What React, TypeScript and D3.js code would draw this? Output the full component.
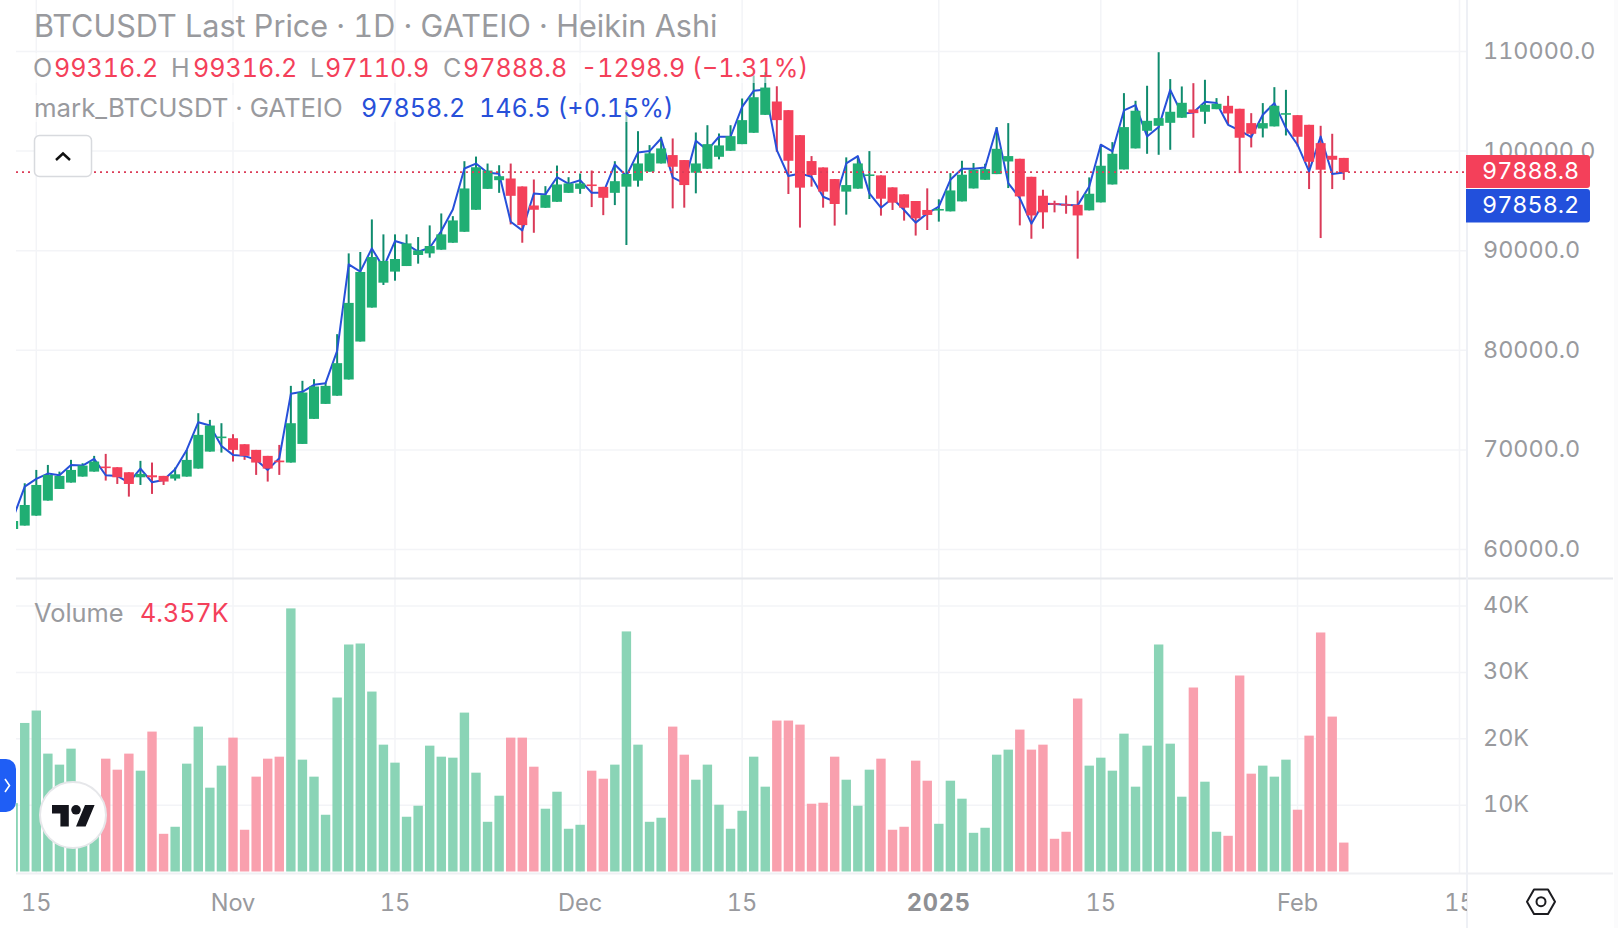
import * as d3 from "d3";

const FONT = "Inter, 'Noto Sans', sans-serif";
const UP = "#20ae73";
const DOWN = "#f4405a";
const UP_WICK = "#0f8b6e";
const DOWN_WICK = "#da3a58";
const UP_VOL = "#8ad4b6";
const DOWN_VOL = "#f9a0ae";
const BLUE = "#2750d9";
const GRID = "#f3f4f7";
const GREY = "#999a9e";

// first candle date, one candle per day
const firstDay = new Date(Date.UTC(2024, 9, 13));

const open = [
  62060, 62400, 63400, 64910, 66080, 66720, 67320, 67820, 68330, 68260, 67755, 67250, 67450, 67390, 67120, 67320,
  68125, 69830, 71200, 71170, 70570, 70000, 69400, 68930, 68730, 70600, 73115, 74620, 75440, 77070, 80880, 84290,
  86790, 87900, 88460, 89570, 89730, 90100, 90800, 91900, 94110, 96210, 97080, 97250, 96450, 94540, 94310, 94910,
  95810, 96210, 96650, 96410, 95810, 96430, 97030, 97930, 98760, 99600, 99100, 97830, 98230, 99430, 100030, 100700,
  101840, 103640, 104980, 104110, 101600, 99000, 98360, 97190, 95930, 96230, 97530, 97560, 96360, 95660, 94990, 94090,
  94050, 93950, 94950, 96250, 97120, 97690, 98960, 99230, 97420, 95520, 94780, 94680, 94610, 94050, 94850, 96650,
  98160, 100270, 102040, 102540, 102840, 103350, 104180, 103950, 104210, 104550, 104250, 102810, 102270, 102480, 103710,
  103610, 102640, 100800, 99530, 99316.2,
];
const high = [
  62860, 66650, 67990, 68490, 67820, 69000, 68660, 69400, 69600, 68260, 67755, 68900, 68730, 67390, 68225, 70000,
  73685, 73015, 72680, 71575, 70570, 70000, 69400, 70500, 76430, 76935, 77100, 76770, 81620, 89730, 89870, 93140,
  91640, 91640, 91640, 91370, 92540, 93740, 93470, 98985, 99450, 98750, 98580, 98750, 96450, 97150, 96480, 98550,
  97380, 97750, 98050, 96410, 98985, 104120, 102000, 100600, 101440, 101270, 99100, 101870, 102600, 101770, 102600, 105280,
  107600, 107920, 106510, 104110, 101600, 99500, 98360, 97190, 99370, 99500, 100000, 97560, 96360, 95660, 94990, 96260,
  95160, 97790, 99030, 98800, 98730, 102410, 102810, 99230, 97420, 96120, 95020, 95550, 96020, 97360, 100640, 100900,
  105820, 105050, 106560, 109930, 107230, 106490, 106820, 107160, 105320, 105550, 104250, 103810, 104820, 106420, 106150,
  103610, 102640, 102540, 101740, 99316.2,
];
const low = [
  61900, 62400, 63400, 64910, 66080, 66720, 67320, 67820, 66920, 66580, 65310, 66480, 65580, 66480, 66920, 67320,
  68125, 69830, 69730, 68830, 69000, 67490, 66820, 67490, 68730, 70600, 73115, 74620, 75440, 77070, 80880, 84290,
  86560, 86990, 88460, 88700, 89300, 90100, 90800, 91900, 94110, 96210, 95810, 92640, 90800, 91800, 94310, 94910,
  95810, 95710, 94380, 93570, 94580, 90570, 96430, 97930, 98760, 94250, 94320, 95760, 98230, 99170, 100030, 100700,
  101840, 103640, 99930, 95690, 92320, 96430, 94320, 92520, 93620, 96230, 95190, 93520, 94090, 93020, 91520, 92080,
  92920, 93950, 94950, 96250, 97120, 97690, 96290, 92540, 91200, 92210, 93850, 93710, 89200, 94050, 94850, 96650,
  98160, 100270, 99730, 99630, 100130, 103350, 101340, 102740, 104210, 102640, 97790, 100370, 101370, 102480, 101570,
  100470, 96190, 91270, 96190, 97110.9,
];
const close = [
  62860, 64470, 66480, 67490, 67390, 67990, 68425, 68830, 68250, 67250, 66580, 67590, 67250, 66820, 67550, 68995,
  71510, 72445, 71340, 70000, 69400, 68730, 68125, 68760, 72680, 75760, 76365, 76430, 78710, 84760, 87860, 89365,
  88965, 89165, 90735, 90030, 90470, 91640, 93040, 96250, 98380, 98050, 97480, 95510, 92570, 94110, 95580, 96650,
  96750, 96750, 96510, 95310, 96980, 97700, 98760, 99770, 100270, 98430, 96590, 98760, 100700, 100570, 101500, 103110,
  105410, 106380, 103110, 99030, 96330, 97600, 95930, 94690, 96590, 98760, 97660, 95220, 94820, 94320, 93250, 93590,
  94190, 96050, 97630, 98130, 98190, 100230, 99500, 95450, 93540, 93850, 94610, 94550, 93540, 95720, 98530, 99730,
  102410, 104050, 103040, 103310, 103950, 104850, 103810, 104650, 104750, 103780, 101340, 101740, 102810, 104550, 103810,
  101440, 98930, 98130, 99130, 97888.8,
];
const markPrice = [
  63170, 66315, 67085, 67620, 67450, 68490, 68425, 69100, 67450, 67390, 66720, 68125, 66750, 66985, 68060, 70000,
  72780, 72445, 70400, 69500, 69400, 69000, 67990, 69160, 75630, 75830, 76530, 76700, 79950, 88630, 87900, 90230,
  88300, 90970, 90630, 89900, 90300, 91970, 94140, 98250, 98750, 97820, 97720, 92910, 92040, 95750, 95650, 97380,
  96710, 97080, 95810, 95810, 98660, 97500, 99870, 100000, 101270, 97360, 96760, 101040, 100100, 101440, 101440, 104440,
  106050, 106180, 100100, 97500, 97760, 97430, 95420, 94920, 98760, 99500, 95760, 94320, 95260, 94090, 92820, 93750,
  94420, 97120, 98230, 98230, 98360, 102310, 96790, 95280, 92710, 94710, 94680, 94610, 94550, 96450, 100640, 99970,
  104080, 104620, 101470, 102410, 106150, 103750, 103880, 104950, 104820, 102640, 102070, 101400, 103650, 104820, 102310,
  100640, 97960, 101470, 97712, 97858.2,
];
const volume = [
  10300, 22380, 24250, 17760, 16100, 18510, 10300, 9300, 17000, 15340, 17760, 15190, 21080, 5680, 6740, 16250,
  21830, 12630, 15950, 20170, 6290, 14290, 17000, 17300, 39640, 16850, 14290, 8550, 26210, 34200, 34350, 27110,
  19110, 16400, 8250, 9910, 18960, 17300, 17150, 23940, 14890, 7490, 11420, 20170, 20170, 15790, 9460, 12020,
  6440, 7040, 15190, 13980, 16100, 36170, 19110, 7490, 8100, 21830, 17600, 13830, 16100, 10060, 6440, 9150,
  17300, 12780, 22740, 22740, 22130, 10210, 10360, 17300, 13830, 9910, 15340, 17000, 6290, 6740, 16700, 13680,
  7190, 13680, 10970, 5830, 6590, 17600, 18360, 21380, 18360, 19110, 4930, 5990, 26060, 15950, 17150, 15190,
  20770, 12780, 18960, 34200, 19260, 11270, 27720, 13530, 5990, 5380, 29530, 14740, 15950, 14290, 16850, 9310,
  20470, 36010, 23340, 4357,
];

const dates = open.map((_, i) => d3.utcDay.offset(firstDay, i));

const priceTicks = [60000, 70000, 80000, 90000, 100000, 110000];
const volumeTicks = [10000, 20000, 30000, 40000];
const timeTicks = [
  new Date(Date.UTC(2024, 9, 15)),
  new Date(Date.UTC(2024, 10, 1)),
  new Date(Date.UTC(2024, 10, 15)),
  new Date(Date.UTC(2024, 11, 1)),
  new Date(Date.UTC(2024, 11, 15)),
  new Date(Date.UTC(2025, 0, 1)),
  new Date(Date.UTC(2025, 0, 15)),
  new Date(Date.UTC(2025, 1, 1)),
  new Date(Date.UTC(2025, 1, 15)),
];
const timeLabels = ["15", "Nov", "15", "Dec", "15", "2025", "15", "Feb", "15"];

const lastClose = 97888.8;
const lastMark = 97858.2;

const W = 1618;
const H = 928;
const plotLeft = 16;
const plotRight = 1467;
const paneBreak = 578.5;
const paneBottom = 873.5;

const x = d3
  .scaleUtc()
  .domain([new Date(Date.UTC(2024, 9, 15)), new Date(Date.UTC(2025, 1, 15))])
  .range([36.3, 1459.5]);
const y = d3.scaleLinear().domain([60000, 110000]).range([549.5, 51.5]);
const yVol = d3.scaleLinear().domain([0, 40000]).range([871.5, 606]);

const markLine = d3
  .line<number>()
  .x((_, i) => x(dates[i]))
  .y((d) => y(d));

const txt = { fontFamily: FONT, fontVariantNumeric: "tabular-nums" };

export default function App() {
  return (
    <svg
      width={W}
      height={H}
      viewBox={`0 0 ${W} ${H}`}
      style={{ position: "absolute", left: 0, top: 0, background: "#fff" }}
    >
      <defs>
        <clipPath id="plot">
          <rect x={plotLeft} y={0} width={plotRight - plotLeft} height={paneBreak} />
        </clipPath>
        <clipPath id="vol">
          <rect x={plotLeft} y={paneBreak} width={plotRight - plotLeft} height={paneBottom - paneBreak} />
        </clipPath>
        <clipPath id="timeAxis">
          <rect x={0} y={paneBottom} width={plotRight} height={H - paneBottom} />
        </clipPath>
      </defs>

      <rect x={1614} y={0} width={4} height={H} fill="#fbfbfc" />

      {/* grid */}
      {timeTicks.map((t, i) => (
        <line key={i} x1={x(t)} x2={x(t)} y1={0} y2={paneBottom} stroke={GRID} strokeWidth={1.5} />
      ))}
      {priceTicks.map((t) => (
        <line key={t} x1={plotLeft} x2={plotRight} y1={y(t)} y2={y(t)} stroke={GRID} strokeWidth={1.5} />
      ))}
      {volumeTicks.map((t) => (
        <line key={t} x1={plotLeft} x2={plotRight} y1={yVol(t)} y2={yVol(t)} stroke={GRID} strokeWidth={1.5} />
      ))}

      {/* candles: wicks, then the mark line, then bodies on top */}
      <g clipPath="url(#plot)">
        {dates.map((d, i) => (
          <line
            key={i}
            x1={x(d)}
            x2={x(d)}
            y1={y(high[i])}
            y2={y(low[i])}
            stroke={close[i] >= open[i] ? UP_WICK : DOWN_WICK}
            strokeWidth={2}
          />
        ))}
        <path d={markLine(markPrice) ?? ""} fill="none" stroke={BLUE} strokeWidth={2} strokeLinejoin="round" />
        {dates.map((d, i) => {
          const top = y(Math.max(open[i], close[i]));
          const bot = y(Math.min(open[i], close[i]));
          return (
            <rect
              key={i}
              x={x(d) - 5}
              y={top}
              width={10}
              height={Math.max(bot - top, 1.6)}
              fill={close[i] >= open[i] ? UP : DOWN}
            />
          );
        })}
      </g>

      {/* last price line */}
      <line
        x1={plotLeft}
        x2={plotRight}
        y1={y(lastClose)}
        y2={y(lastClose)}
        stroke="#dc3c58"
        strokeWidth={1.6}
        strokeDasharray="2 4"
      />

      {/* volume */}
      <g clipPath="url(#vol)">
        {dates.map((d, i) => (
          <rect
            key={i}
            x={x(d) - 4.7}
            y={yVol(volume[i])}
            width={9.4}
            height={yVol(0) - yVol(volume[i])}
            fill={close[i] >= open[i] ? UP_VOL : DOWN_VOL}
          />
        ))}
      </g>

      {/* frame */}
      <line x1={plotLeft} x2={1613} y1={paneBreak} y2={paneBreak} stroke="#e6e8ec" strokeWidth={2} />
      <line x1={plotLeft} x2={1613} y1={paneBottom} y2={paneBottom} stroke="#eff0f3" strokeWidth={2} />
      <line x1={plotRight} x2={plotRight} y1={0} y2={H} stroke="#eef0f5" strokeWidth={2} />

      {/* legend */}
      <rect x={30} y={53} width={776} height={30} fill="#fff" fillOpacity={0.55} />
      <rect x={30} y={95} width={646} height={27} fill="#fff" fillOpacity={0.55} />
      <g style={txt} fill={GREY}>
        <text x={34} y={37} fontSize={30.6}>
          BTCUSDT Last Price · 1D · GATEIO · Heikin Ashi
        </text>
      </g>
      <g style={txt} fontSize={25.1}>
        <text x={33} y={76.5} fill={GREY}>O</text>
        <text x={54} y={76.5} fill={DOWN}>99316.2</text>
        <text x={171} y={76.5} fill={GREY}>H</text>
        <text x={193} y={76.5} fill={DOWN}>99316.2</text>
        <text x={310} y={76.5} fill={GREY}>L</text>
        <text x={325} y={76.5} fill={DOWN}>97110.9</text>
        <text x={443} y={76.5} fill={GREY}>C</text>
        <text x={463} y={76.5} fill={DOWN}>97888.8</text>
        <text x={581} y={76.5} fill={DOWN}>-1298.9 (−1.31%)</text>
        <text x={34} y={117} fill={GREY} fontSize={25.8}>mark_BTCUSDT · GATEIO</text>
        <text x={361} y={117} fill={BLUE}>97858.2</text>
        <text x={479} y={117} fill={BLUE}>146.5 (+0.15%)</text>
        <text x={34} y={622} fill={GREY} fontSize={25.4}>Volume</text>
        <text x={140} y={622} fill={DOWN}>4.357K</text>
      </g>

      {/* collapse button */}
      <rect x={34.5} y={135.5} width={57} height={41} rx={5} fill="#fff" stroke="#d8dade" strokeWidth={1.5} />
      <path d="M56 160 L63 153.5 L70 160" fill="none" stroke="#111" strokeWidth={2.4} />

      {/* price axis */}
      <g style={txt} fontSize={23.4} fill={GREY} dominantBaseline="middle">
        {priceTicks.map((t) => (
          <text key={t} x={1483} y={y(t) + 1.2}>
            {t.toFixed(1)}
          </text>
        ))}
        {volumeTicks.map((t) => (
          <text key={t} x={1483} y={yVol(t) + 0.6}>
            {t / 1000}K
          </text>
        ))}
      </g>
      <path d="M1466 155 H1587 a3 3 0 0 1 3 3 V185 a3 3 0 0 1 -3 3 H1466 Z" fill={DOWN} />
      <path d="M1466 189 H1587 a3 3 0 0 1 3 3 V219.5 a3 3 0 0 1 -3 3 H1466 Z" fill="#2250dc" />
      <g style={txt} fontSize={23.4} fill="#fff" dominantBaseline="middle">
        <text x={1482} y={172.6}>{lastClose.toFixed(1)}</text>
        <text x={1482} y={206.6}>{lastMark.toFixed(1)}</text>
      </g>

      {/* time axis */}
      <g clipPath="url(#timeAxis)">
        {timeTicks.map((t, i) => (
          <text
            key={i}
            x={x(t)}
            y={911}
            textAnchor="middle"
            fontSize={23.6}
            style={txt}
            fontWeight={timeLabels[i] === "2025" ? 700 : 400}
            letterSpacing={timeLabels[i] === "2025" ? 0.8 : 0}
            fill={timeLabels[i] === "2025" ? "#8f9094" : GREY}
          >
            {timeLabels[i]}
          </text>
        ))}
      </g>

      {/* settings icon */}
      <path
        d="M1534 889.5 H1548 L1555 901.7 L1548 914 H1534 L1527 901.7 Z"
        fill="none"
        stroke="#1c1c20"
        strokeWidth={2}
        strokeLinejoin="round"
      />
      <circle cx={1541} cy={901.7} r={4.5} fill="none" stroke="#1c1c20" strokeWidth={2} />

      {/* side tab */}
      <path d="M0 759 H6 a10 10 0 0 1 10 10 V802 a10 10 0 0 1 -10 10 H0 Z" fill="#1f5ef5" />
      <path d="M5 779 L9.5 785.5 L5 792" fill="none" stroke="#fff" strokeWidth={1.6} />

      {/* TV logo */}
      <circle cx={73} cy={815} r={33} fill="#fff" stroke="#e6e7ea" strokeWidth={2} />
      <g transform="translate(52,800.2) scale(1.2)" fill="#14151c">
        <path d="M14 22H7V11H0V4h14v18zM28 22h-8l7.5-18h8L28 22z" />
        <circle cx={20} cy={8} r={4} />
      </g>
    </svg>
  );
}
